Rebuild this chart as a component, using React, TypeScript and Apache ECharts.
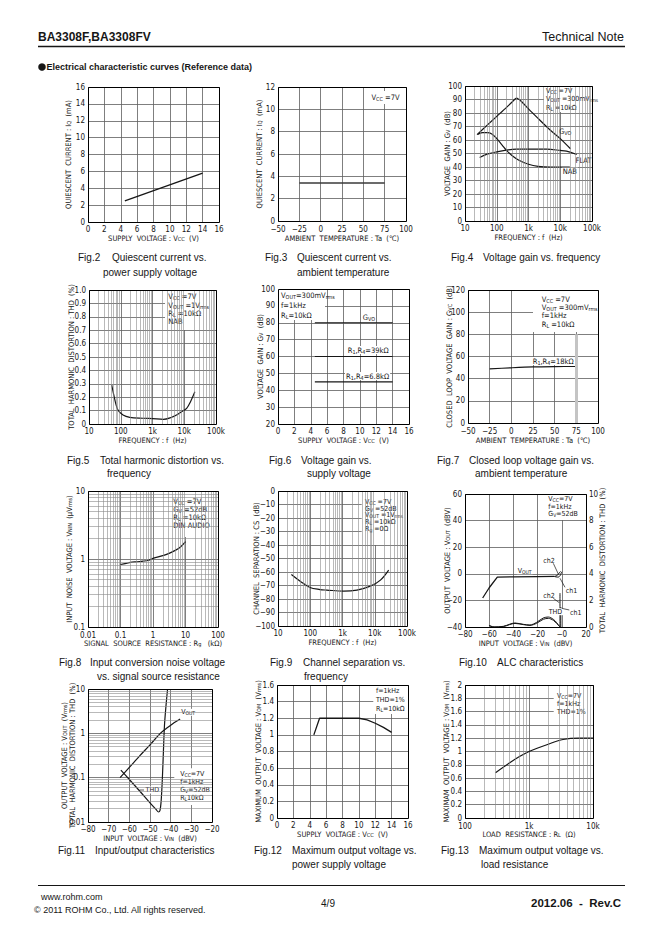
import React, { useEffect, useRef } from 'react';
import * as echarts from 'echarts';

const INK = '#161616';
const GRID_C = '#5e5e5e';
const MINOR_C = '#8a8a8a';
const NARROW = '"Liberation Sans Narrow","DejaVu Sans Condensed","Liberation Sans",Arial,sans-serif';
const SANS = '"Liberation Sans",Arial,Helvetica,sans-serif';

/* ---------------- data ---------------- */
// Fig.2 quiescent current vs supply voltage
const fig2Vcc = [4.5, 14];
const fig2Iq = [2.5, 5.8];
// Fig.3 quiescent current vs ambient temperature
const fig3Ta = [-25, 75];
const fig3Iq = [3.4, 3.4];
// Fig.4 voltage gain vs frequency
const fig4GvoF = [24, 50, 100, 200, 300, 420, 600, 1000, 2000, 5000, 10000, 21000];
const fig4GvoDb = [64, 71, 77.5, 84, 88, 91, 88.5, 83, 76, 67, 61, 53.5];
const fig4NabF = [25, 35, 50, 70, 100, 150, 200, 300, 500, 1000, 2000, 5000, 20000];
const fig4NabDb = [64, 65.5, 65.5, 64.5, 61, 56, 52.5, 48.5, 45, 42, 40.5, 40, 40];
const fig4FlatF = [29, 50, 100, 200, 420, 1000, 3700, 10000, 15700, 33000];
const fig4FlatDb = [47, 49.5, 51.2, 52.5, 53.2, 53.3, 53.2, 52.3, 51.7, 49.3];
// Fig.5 THD vs frequency
const fig5F = [52, 60, 70, 82, 118, 192, 500, 1000, 2200, 4000, 5700, 8000, 11900, 16000, 21600];
const fig5Thd = [0.29, 0.22, 0.15, 0.104, 0.067, 0.05, 0.043, 0.04, 0.035, 0.05, 0.067, 0.09, 0.117, 0.17, 0.24];
// Fig.6 voltage gain vs supply voltage
const fig6Vcc = [4.5, 14];
const fig6Gvo = [80, 80];
const fig6Gv39k = [60, 60];
const fig6Gv68k = [45, 45];
// Fig.7 closed loop gain vs temperature
const fig7Ta = [-25, 0, 25, 50, 75];
const fig7Gvc = [48.8, 49.8, 50.6, 50.9, 51];
// Fig.8 input noise vs source resistance
const fig8Rg = [0.1, 0.15, 0.2, 0.3, 0.5, 0.7, 1, 2, 3, 5, 7, 10];
const fig8Vnin = [0.83, 0.86, 0.89, 0.91, 0.93, 0.95, 1.02, 1.12, 1.2, 1.35, 1.5, 1.8];
// Fig.9 channel separation vs frequency
const fig9F = [26, 50, 98, 200, 324, 1100, 2800, 7300, 15000, 27000];
const fig9Cs = [-61.8, -67, -71.5, -73, -73.4, -74.2, -73.4, -70.5, -66, -58.6];
// Fig.10 ALC characteristics
const fig10Vin = [-65.4, -60, -53.3, -40, -20, -6];
const fig10Vout = [-18.2, -10.5, -2.5, -2.3, -2.1, -2];
const fig10VinCh2 = [-6, -3.5, -2, -1];
const fig10VoutCh2 = [-2, -1, 0.8, 1.8];
const fig10VinCh1 = [-6, -3, -1.5, -0.5, 0];
const fig10VoutCh1 = [-2.1, -2.5, -1.5, 0.5, 1.5];
const fig10VinThd2 = [-60.2, -56, -48.3, -38.7, -31.8, -26.3, -20.8, -15.3, -11.1, -7, -4.2, -2, -1.5, -1.5];
const fig10Thd2 = [0.125, 0, 0.05, 0.3, 0.2, 0.15, 0.35, 0.68, 0.75, 0.58, 0.32, 0.05, 0.02, 2.55];
const fig10VinThd1 = [-60, -56, -48, -38.7, -31.8, -26.3, -20.8, -15.3, -11.1, -7, -4.2, -1.5, -0.8, -0.8];
const fig10Thd1 = [0.1, 0, 0.04, 0.27, 0.18, 0.12, 0.28, 0.58, 0.65, 0.5, 0.26, 0.03, 0, 1.5];
// Fig.11 input/output characteristics
const fig11VinOut = [-64.5, -60, -55, -50, -45, -42, -39, -35.4];
const fig11Vout = [0.1, 0.17, 0.31, 0.55, 1.0, 1.3, 1.65, 2.1];
const fig11VinThd = [-64.1, -60, -55, -50, -47, -45.9, -45.2, -44.6, -44, -43.5, -43, -42.3, -41.5];
const fig11Thd = [0.148, 0.091, 0.05, 0.027, 0.019, 0.0168, 0.018, 0.03, 0.1, 0.4, 1.5, 4, 10];
// Fig.12 max output voltage vs supply voltage
const fig12Vcc = [4.5, 5.2, 10, 11, 12, 13, 14];
const fig12Vom = [1.0, 1.2, 1.2, 1.18, 1.14, 1.09, 1.03];
// Fig.13 max output voltage vs load resistance
const fig13Rl = [300, 500, 700, 1000, 2000, 3400, 6100, 10000];
const fig13Vom = [0.68, 0.83, 0.92, 1.0, 1.11, 1.18, 1.2, 1.2];

/* ---------------- layout ---------------- */
const GRIDS = [
  { left: 88, top: 87, width: 131, height: 135 },   // 0 Fig.2
  { left: 278, top: 87, width: 128, height: 134 },  // 1 Fig.3
  { left: 465, top: 86, width: 127, height: 135 },  // 2 Fig.4
  { left: 89, top: 290, width: 127, height: 134 },  // 3 Fig.5
  { left: 278, top: 289, width: 131, height: 135 }, // 4 Fig.6
  { left: 468, top: 290, width: 130, height: 133 }, // 5 Fig.7
  { left: 88, top: 491, width: 130, height: 136 },  // 6 Fig.8
  { left: 278, top: 491, width: 129, height: 135 }, // 7 Fig.9
  { left: 465, top: 494, width: 121, height: 133 }, // 8 Fig.10
  { left: 88, top: 689, width: 124, height: 133 },  // 9 Fig.11
  { left: 277, top: 685, width: 131, height: 133 }, // 10 Fig.12
  { left: 465, top: 685, width: 128, height: 133 }, // 11 Fig.13
];

const CAPTIONS: [number, number, string][] = [
  [78, 257, 'Fig.2'], [112, 257, 'Quiescent current vs.'], [103, 272, 'power supply voltage'],
  [265, 257, 'Fig.3'], [297, 257, 'Quiescent current vs.'], [297, 272, 'ambient temperature'],
  [451, 257, 'Fig.4'], [483, 257, 'Voltage gain vs. frequency'],
  [67, 460, 'Fig.5'], [100, 460, 'Total harmonic distortion vs.'], [107, 473, 'frequency'],
  [269, 460, 'Fig.6'], [301, 460, 'Voltage gain vs.'], [307, 473, 'supply voltage'],
  [437, 460, 'Fig.7'], [469, 460, 'Closed loop voltage gain vs.'], [475, 473, 'ambient temperature'],
  [59, 662, 'Fig.8'], [90, 662, 'Input conversion noise voltage'], [97, 676, 'vs. signal source resistance'],
  [270, 662, 'Fig.9'], [303, 662, 'Channel separation vs.'], [304, 676, 'frequency'],
  [459, 662, 'Fig.10'], [497, 662, 'ALC characteristics'],
  [58, 850, 'Fig.11'], [95, 850, 'Input/output characteristics'],
  [254, 850, 'Fig.12'], [292, 850, 'Maximum output voltage vs.'], [292, 864, 'power supply voltage'],
  [441, 850, 'Fig.13'], [479, 850, 'Maximum output voltage vs.'], [481, 864, 'load resistance'],
];

/* ---------------- helpers ---------------- */
const minus = (s: string) => s.replace('-', '\u2212');
const fmtLin = (v: number) => minus(String(Number(v.toFixed(3))));
const fmtLog = (v: number) => {
  const n = Number(Number(v).toPrecision(3));
  return n >= 1000 ? n / 1000 + 'k' : String(n);
};
const fmtLogPlain = (v: number) => String(Number(Number(v).toPrecision(3)));

const SUB = { fontFamily: NARROW, fontSize: 5.5, color: INK, verticalAlign: 'bottom' };
const NAME_STYLE = { fontFamily: NARROW, fontSize: 7.5, color: INK, rich: { s: SUB } };
const TICK = { fontFamily: NARROW, fontSize: 8, color: INK };

function axisBase(gi: number, name: string, gap: number, isY: boolean, fmt: any, extra: any = {}) {
  const margin = extra.margin ?? 3;
  delete extra.margin;
  return {
    gridIndex: gi,
    name,
    nameLocation: 'middle',
    nameGap: gap,
    nameRotate: isY ? 90 : 0,
    nameMoveOverlap: false,
    nameTextStyle: NAME_STYLE,
    axisLine: { show: false },
    axisTick: { show: false },
    axisLabel: { ...TICK, margin, formatter: fmt, showMinLabel: true, showMaxLabel: true, hideOverlap: false },
    splitLine: { show: true, lineStyle: { color: GRID_C, width: 0.8 } },
    ...extra,
  };
}
function lin(gi: number, min: number, max: number, interval: number, name: string, gap: number, isY: boolean, fmt: any = fmtLin, extra: any = {}) {
  return { type: 'value', min, max, interval, ...axisBase(gi, name, gap, isY, fmt, { ...extra }) };
}
function logA(gi: number, min: number, max: number, name: string, gap: number, isY: boolean, fmt: any, extra: any = {}) {
  return { type: 'log', logBase: 10, min, max, ...axisBase(gi, name, gap, isY, fmt, { ...extra }) };
}
function logMinors(min: number, max: number) {
  const out: number[] = [];
  for (let d = min; d < max * 0.999; d *= 10) {
    for (let k = 2; k <= 9; k++) out.push(Number((d * k).toPrecision(6)));
  }
  return out;
}
function minorLines(gi: number, corner: number[], xs: number[], ys: number[]) {
  return {
    type: 'line', xAxisIndex: gi, yAxisIndex: gi, data: [corner], symbol: 'none', silent: true, z: 0,
    lineStyle: { width: 0 },
    markLine: {
      silent: true, symbol: ['none', 'none'], animation: false, label: { show: false },
      lineStyle: { color: MINOR_C, width: 0.6, type: 'solid' },
      emphasis: { disabled: true },
      data: [...xs.map((v) => ({ xAxis: v })), ...ys.map((v) => ({ yAxis: v }))],
    },
  };
}
function curve(gi: number, xs: number[], ys: number[], o: any = {}) {
  return {
    type: 'line', xAxisIndex: gi, yAxisIndex: o.yAxisIndex ?? gi,
    data: xs.map((x, i) => [x, ys[i]]),
    symbol: 'none', showSymbol: false, silent: true, z: 3,
    smooth: o.smooth ?? false,
    lineStyle: { color: o.color ?? INK, width: o.width ?? 1.2 },
  };
}

function txt(x: number, y: number, text: string, o: any = {}) {
  const size = o.size ?? 7.5;
  const font = o.font ?? NARROW;
  const style: any = {
    text, fontSize: size, fontFamily: font, fontWeight: o.weight ?? 'normal', fill: o.color ?? INK,
    align: o.align ?? 'left', textAlign: o.align ?? 'left',
    verticalAlign: 'middle', textVerticalAlign: 'middle',
  };
  if (text.indexOf('{') >= 0) {
    style.rich = { s: { fontSize: size * 0.72, fontFamily: font, fill: o.color ?? INK, verticalAlign: 'bottom' } };
  }
  if (o.bg) { style.backgroundColor = '#fff'; style.padding = [0, 1]; }
  return { type: 'text', x, y, z: o.z ?? 5, silent: true, style };
}
const ann = (gi: number, dx: number, dy: number, text: string, o: any = {}) =>
  txt(GRIDS[gi].left + dx, GRIDS[gi].top + dy, text, o);
const box = (gi: number, dx: number, dy: number, w: number, h: number) => ({
  type: 'rect', silent: true, z: 1,
  shape: { x: GRIDS[gi].left + dx, y: GRIDS[gi].top + dy, width: w, height: h },
  style: { fill: '#fff' },
});
const frame = (gi: number) => ({
  type: 'rect', silent: true, z: 6,
  shape: { x: GRIDS[gi].left + 0.5, y: GRIDS[gi].top + 0.5, width: GRIDS[gi].width, height: GRIDS[gi].height },
  style: { fill: 'none', stroke: '#000', lineWidth: 1 },
});
const seg = (x1: number, y1: number, x2: number, y2: number, w = 0.8) => ({
  type: 'line', silent: true, z: 5, shape: { x1, y1, x2, y2 }, style: { stroke: INK, lineWidth: w },
});
const gseg = (gi: number, dx1: number, dy1: number, dx2: number, dy2: number) =>
  seg(GRIDS[gi].left + dx1, GRIDS[gi].top + dy1, GRIDS[gi].left + dx2, GRIDS[gi].top + dy2, 0.7);

function buildOption() {
  const FREQ = 'FREQUENCY : f  (Hz)';
  const xAxis = [
    lin(0, 0, 16, 2, 'SUPPLY  VOLTAGE : V{s|CC}  (V)', 12, false),
    lin(1, -50, 100, 25, 'AMBIENT  TEMPERATURE : Ta  (\u2103)', 13, false, fmtLin, { margin: 4 }),
    logA(2, 10, 100000, FREQ, 12, false, fmtLog),
    logA(3, 10, 100000, FREQ, 12, false, fmtLog),
    lin(4, 0, 16, 2, 'SUPPLY  VOLTAGE : V{s|CC}  (V)', 12, false),
    lin(5, -50, 100, 25, 'AMBIENT  TEMPERATURE : Ta  (\u2103)', 13, false, fmtLin, { margin: 4 }),
    logA(6, 0.01, 100, 'SIGNAL  SOURCE  RESISTANCE : R{s|g}   (k\u03A9)', 12, false, fmtLogPlain, { margin: 4 }),
    logA(7, 10, 100000, FREQ, 12, false, fmtLog),
    lin(8, -80, 20, 20, 'INPUT  VOLTAGE : V{s|IN}  (dBV)', 12, false, (v: number) => (v === 0 ? '\u22120' : fmtLin(v))),
    lin(9, -80, -20, 10, 'INPUT  VOLTAGE : V{s|IN}  (dBV)', 12, false),
    lin(10, 0, 16, 2, 'SUPPLY  VOLTAGE : V{s|CC}  (V)', 12, false),
    logA(11, 100, 10000, 'LOAD  RESISTANCE : R{s|L}  (\u03A9)', 12, false, fmtLog, { margin: 4 }),
  ];
  const yAxis = [
    lin(0, 0, 16, 2, 'QUIESCENT  CURRENT : I{s|Q}  (mA)', 16, true),
    lin(1, 0, 12, 2, 'QUIESCENT  CURRENT : I{s|Q}  (mA)', 15, true),
    lin(2, 0, 100, 10, 'VOLTAGE  GAIN : G{s|V}  (dB)', 14, true),
    lin(3, 0, 1, 0.1, 'TOTAL  HARMONIC  DISTORTION : THD  (%)', 14, true, (v: number) => (v === 0 ? '0' : v.toFixed(1))),
    lin(4, 20, 100, 10, 'VOLTAGE  GAIN : G{s|V}  (dB)', 14, true),
    lin(5, 0, 120, 20, 'CLOSED  LOOP  VOLTAGE  GAIN : G{s|VC}  (dB)', 15, true),
    logA(6, 0.1, 10, 'INPUT  NOISE  VOLTAGE : V{s|NIN}  (\u03BCV{s|rms})', 15, true, fmtLogPlain),
    lin(7, -100, 0, 10, 'CHANNEL  SEPARATION : CS  (dB)', 18, true),
    lin(8, -40, 60, 20, 'OUTPUT  VOLTAGE : V{s|OUT}  (dBV)', 14, true),
    logA(9, 0.01, 10, 'OUTPUT  VOLTAGE : V{s|OUT}  (V{s|rms})\nTOTAL  HARMONIC  DISTORTION : THD  (%)', 12, true, fmtLogPlain),
    lin(10, 0, 1.6, 0.2, 'MAXIMUM  OUTPUT  VOLTAGE : V{s|OM}  (V{s|rms})', 15, true),
    lin(11, 0, 2, 0.2, 'MAXIMAM  OUTPUT  VOLTAGE : V{s|OM}  (V{s|rms})', 15, true),
    lin(8, 0, 10, 2, 'TOTAL  HARMONIC  DISTORTION : THD  (%)', 12, true, fmtLin, { position: 'right', splitLine: { show: false } }),
  ];

  const series: any[] = [
    // Fig.2
    curve(0, fig2Vcc, fig2Iq, { width: 1.3 }),
    // Fig.3
    curve(1, fig3Ta, fig3Iq, { width: 1.6, color: '#3a3a3a' }),
    // Fig.4
    minorLines(2, [10, 0], logMinors(10, 100000), []),
    curve(2, fig4GvoF, fig4GvoDb, { smooth: 0.25 }),
    curve(2, fig4NabF, fig4NabDb, { smooth: 0.35 }),
    curve(2, fig4FlatF, fig4FlatDb, { smooth: 0.35 }),
    // Fig.5
    minorLines(3, [10, 0], logMinors(10, 100000), []),
    curve(3, fig5F, fig5Thd, { smooth: 0.35 }),
    // Fig.6
    curve(4, fig6Vcc, fig6Gvo),
    curve(4, fig6Vcc, fig6Gv39k),
    curve(4, fig6Vcc, fig6Gv68k),
    // Fig.7
    {
      type: 'line', xAxisIndex: 5, yAxisIndex: 5, data: [[75, 0]], symbol: 'none', silent: true, z: 0,
      lineStyle: { width: 0 },
      markLine: {
        silent: true, symbol: ['none', 'none'], label: { show: false },
        lineStyle: { color: '#c4c4c4', width: 3, type: 'solid' },
        data: [[{ coord: [75, 0] }, { coord: [75, 80] }]],
      },
    },
    curve(5, fig7Ta, fig7Gvc, { smooth: 0.3 }),
    // Fig.8
    minorLines(6, [0.01, 0.1], logMinors(0.01, 100), logMinors(0.1, 10)),
    curve(6, fig8Rg, fig8Vnin, { smooth: 0.35 }),
    // Fig.9
    minorLines(7, [10, -100], logMinors(10, 100000), []),
    curve(7, fig9F, fig9Cs, { smooth: 0.35 }),
    // Fig.10
    curve(8, fig10Vin, fig10Vout, { width: 1.3 }),
    curve(8, fig10VinCh2, fig10VoutCh2, { smooth: 0.3, width: 1 }),
    curve(8, fig10VinCh1, fig10VoutCh1, { smooth: 0.3, width: 1 }),
    curve(8, fig10VinThd2, fig10Thd2, { smooth: 0.3, width: 1, yAxisIndex: 12 }),
    curve(8, fig10VinThd1, fig10Thd1, { smooth: 0.3, width: 1, yAxisIndex: 12 }),
    // Fig.11
    minorLines(9, [-80, 0.01], [], logMinors(0.01, 10)),
    curve(9, fig11VinOut, fig11Vout, { smooth: 0.3 }),
    curve(9, fig11VinThd, fig11Thd, { smooth: 0.3 }),
    // Fig.12
    curve(10, fig12Vcc, fig12Vom, { width: 1.3 }),
    // Fig.13
    minorLines(11, [100, 0], logMinors(100, 10000), []),
    curve(11, fig13Rl, fig13Vom, { smooth: 0.35 }),
  ];

  const g: any[] = [];
  // header / footer
  g.push(txt(38, 37, 'BA3308F,BA3308FV', { font: SANS, size: 12, weight: 'bold' }));
  g.push(txt(624, 37, 'Technical Note', { font: SANS, size: 12.5, align: 'right' }));
  g.push(seg(38, 46.5, 625, 46.5, 1.3));
  g.push({ type: 'circle', silent: true, z: 5, shape: { cx: 42, cy: 67, r: 3.8 }, style: { fill: INK } });
  g.push(txt(46.5, 67, 'Electrical characteristic curves (Reference data)', { font: SANS, size: 9, weight: 'bold' }));
  g.push(seg(38, 885.5, 625, 885.5, 1));
  g.push(txt(41, 897, 'www.rohm.com', { font: SANS, size: 9 }));
  g.push(txt(34, 910, '\u00A9 2011 ROHM Co., Ltd. All rights reserved.', { font: SANS, size: 9 }));
  g.push(txt(328, 903, '4/9', { font: SANS, size: 10, align: 'center' }));
  g.push(txt(621, 903, '2012.06  -  Rev.C', { font: SANS, size: 11.5, weight: 'bold', align: 'right' }));
  CAPTIONS.forEach(([x, y, t]) => g.push(txt(x, y, t, { font: SANS, size: 10 })));

  // frames
  GRIDS.forEach((_, i) => g.push(frame(i)));

  // Fig.3
  g.push(box(1, 90, 4, 34, 13));
  g.push(ann(1, 93.5, 10.7, 'V{s|CC} =7V'));
  // Fig.4
  g.push(box(2, 79, 0, 48, 26));
  g.push(ann(2, 81, 4.5, 'V{s|CC} =7V', { size: 7 }));
  g.push(ann(2, 81, 13, 'V{s|OUT} =300mV{s|rms}', { size: 7 }));
  g.push(ann(2, 81, 21.5, 'R{s|L} =10k\u03A9', { size: 7 }));
  g.push(ann(2, 94, 45, 'G{s|VO}'));
  g.push(ann(2, 109.5, 74, 'FLAT', { bg: true }));
  g.push(ann(2, 96.7, 85.7, 'NAB', { bg: true }));
  // Fig.5
  g.push(box(3, 76, 0, 51, 40));
  g.push(ann(3, 79.3, 6.7, 'V{s|CC} =7V'));
  g.push(ann(3, 79.3, 15, 'V{s|OUT} =1V{s|rms}'));
  g.push(ann(3, 79.3, 23.3, 'R{s|L} =10k\u03A9'));
  g.push(ann(3, 79.3, 31.7, 'NAB'));
  // Fig.6
  g.push(box(4, 0, 0, 47, 31));
  g.push(ann(4, 3, 6, 'V{s|OUT}=300mV{s|rms}'));
  g.push(ann(4, 3, 16, 'f=1kHz'));
  g.push(ann(4, 3, 26, 'R{s|L}=10k\u03A9'));
  g.push(ann(4, 83.7, 28.3, 'G{s|VO}', { bg: true }));
  g.push(ann(4, 68.7, 61, 'R{s|1},R{s|4}=39k\u03A9', { bg: true }));
  g.push(ann(4, 67, 87, 'R{s|1},R{s|4}=6.8k\u03A9', { bg: true }));
  // Fig.7
  g.push(box(5, 65, 0, 65, 42));
  g.push(ann(5, 73.7, 9.5, 'V{s|CC} =7V'));
  g.push(ann(5, 73.7, 17.7, 'V{s|OUT} =300mV{s|rms}'));
  g.push(ann(5, 73.7, 25.9, 'f=1kHz'));
  g.push(ann(5, 73.7, 34.1, 'R{s|L} =10k\u03A9'));
  g.push(ann(5, 63.7, 71, 'R{s|1},R{s|4}=18k\u03A9', { bg: true }));
  // Fig.8
  g.push(box(6, 74.7, 0, 55.3, 46));
  g.push(ann(6, 85.3, 10.5, 'V{s|CC} =7V'));
  g.push(ann(6, 85.3, 18.3, 'G{s|V} =52dB'));
  g.push(ann(6, 85.3, 26, 'R{s|L} =10k\u03A9'));
  g.push(ann(6, 85.3, 34.5, 'DIN AUDIO'));
  // Fig.9
  g.push(box(7, 83.7, 0, 45.3, 54));
  g.push(ann(7, 87, 10.7, 'V{s|CC} =7V', { size: 7 }));
  g.push(ann(7, 87, 17.6, 'G{s|V} =52dB', { size: 7 }));
  g.push(ann(7, 87, 24.4, 'V{s|OUT} =1V{s|rms}', { size: 7 }));
  g.push(ann(7, 87, 31.2, 'R{s|L} =10k\u03A9', { size: 7 }));
  g.push(ann(7, 87, 38.3, 'R{s|g} =0\u03A9', { size: 7 }));
  // Fig.10
  g.push(box(8, 80, 0, 41, 26));
  g.push(ann(8, 83.3, 5.3, 'V{s|CC}=7V', { size: 7 }));
  g.push(ann(8, 83.3, 12.7, 'f=1kHz', { size: 7 }));
  g.push(ann(8, 83.3, 20.3, 'G{s|V}=52dB', { size: 7 }));
  g.push(ann(8, 51.7, 76.7, 'V{s|OUT}', { bg: true, size: 7 }));
  g.push(ann(8, 78.3, 66.7, 'ch2', { size: 7 }));
  g.push(ann(8, 100.7, 97, 'ch1', { size: 7 }));
  g.push(ann(8, 78.3, 102.3, 'ch2', { size: 7 }));
  g.push(ann(8, 105, 119.3, 'ch1', { size: 7 }));
  g.push(ann(8, 82.7, 117.7, 'THD', { size: 7, bg: true }));
  g.push(gseg(8, 88.3, 69.3, 93.3, 80));
  g.push(gseg(8, 100, 93.3, 95, 84.3));
  g.push(gseg(8, 88.3, 104.3, 94.3, 108.7));
  g.push(gseg(8, 104.3, 116, 96.7, 114.3));
  // Fig.11
  g.push(box(9, 86.3, 79.3, 37.7, 36.7));
  g.push(ann(9, 92.2, 84.5, 'V{s|CC}=7V', { size: 7 }));
  g.push(ann(9, 92.2, 92.8, 'f=1kHz', { size: 7 }));
  g.push(ann(9, 92.2, 101.1, 'G{s|V}=52dB', { size: 7 }));
  g.push(ann(9, 92.2, 109.4, 'R{s|L}10k\u03A9', { size: 7 }));
  g.push(ann(9, 56.6, 101, 'THD', { bg: true, size: 7 }));
  g.push(gseg(9, 51.7, 101, 56, 101));
  g.push(ann(9, 92.2, 23.3, 'V{s|OUT}', { bg: true, size: 7 }));
  // Fig.12
  g.push(box(10, 96.3, 0, 34.7, 29));
  g.push(ann(10, 99, 6, 'f=1kHz', { size: 7 }));
  g.push(ann(10, 99, 15, 'THD=1%', { size: 7 }));
  g.push(ann(10, 99, 24, 'R{s|L}=10k\u03A9', { size: 7 }));
  // Fig.13
  g.push(box(11, 88.7, 0, 39.3, 33));
  g.push(ann(11, 92, 11, 'V{s|CC}=7V', { size: 7 }));
  g.push(ann(11, 92, 19, 'f=1kHz', { size: 7 }));
  g.push(ann(11, 92, 27, 'THD=1%', { size: 7 }));

  return {
    animation: false,
    backgroundColor: '#ffffff',
    grid: GRIDS.map((r) => ({ ...r, containLabel: false, outerBoundsMode: 'none', show: false })),
    xAxis,
    yAxis,
    series,
    graphic: { elements: g },
  };
}

export default function App() {
  const ref = useRef<HTMLDivElement>(null);
  useEffect(() => {
    const chart = echarts.init(ref.current as HTMLDivElement, undefined, { renderer: 'svg' });
    chart.setOption(buildOption() as any);
    return () => chart.dispose();
  }, []);
  return (
    <div
      ref={ref}
      style={{ position: 'absolute', left: 0, top: 0, width: 662, height: 936, background: '#fff' }}
    />
  );
}
